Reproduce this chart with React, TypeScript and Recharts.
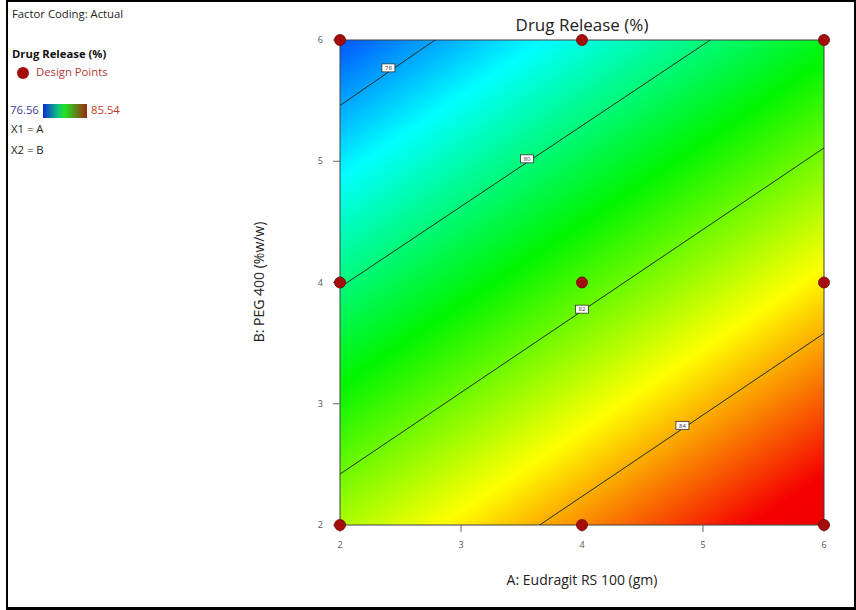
import React from 'react';
import { ComposedChart, XAxis, YAxis, Scatter, ReferenceArea, ReferenceLine } from 'recharts';

// design points (A: Eudragit RS 100, B: PEG 400)
const designPoints = [
  { a: 2, b: 2 }, { a: 2, b: 4 }, { a: 2, b: 6 },
  { a: 4, b: 2 }, { a: 4, b: 4 }, { a: 4, b: 6 },
  { a: 6, b: 2 }, { a: 6, b: 4 }, { a: 6, b: 6 },
];

// contour lines, endpoints
const contourLevels = [78, 80, 82, 84];
const contourStarts = [{ x: 2, y: 5.46 }, { x: 2, y: 3.96 }, { x: 2, y: 2.42 }, { x: 3.65, y: 2 }];
const contourEnds = [{ x: 2.785, y: 6 }, { x: 5.06, y: 6 }, { x: 6, y: 5.11 }, { x: 6, y: 3.58 }];

// where each contour label box sits
const contourLabels = [
  { a: 2.4, b: 5.77, z: 78 },
  { a: 3.545, b: 5.02, z: 80 },
  { a: 4.0, b: 3.78, z: 82 },
  { a: 4.83, b: 2.82, z: 84 },
];

const xTicks = [2, 3, 4, 5, 6];
const yTicks = [2, 3, 4, 5, 6];

const rangeMin = '76.56';
const rangeMax = '85.54';

const font = '"Open Sans", "Noto Sans", sans-serif';

const DesignDot = (props: any) => (
  <circle cx={props.cx} cy={props.cy} r={5.5} fill="#a50d0d" stroke="#6e0000" strokeWidth={0.8} />
);

const LabelBox = (props: any) => (
  <g>
    <rect x={props.cx - 6.5} y={props.cy - 4} width={13} height={8} fill="#ffffff" stroke="#333" strokeWidth={0.8} />
    <text x={props.cx} y={props.cy + 2.2} fontSize={6} textAnchor="middle" fill="#333" fontFamily={font}>
      {props.payload.z}
    </text>
  </g>
);

export default function App() {
  return (
    <div style={{ position: 'absolute', left: 0, top: 0, width: 856, height: 610, background: '#fff', fontFamily: font }}>
      <div style={{ position: 'absolute', left: 6, top: 0, width: 846, height: 605, border: '2px solid #000', borderTopWidth: 2.5, borderBottomWidth: 3 }} />

      {/* left legend */}
      <div style={{ position: 'absolute', left: 12, top: 6, fontSize: 11.3, color: '#222' }}>Factor Coding: Actual</div>
      <div style={{ position: 'absolute', left: 12, top: 46, fontSize: 11.3, fontWeight: 700, color: '#111' }}>Drug Release (%)</div>
      <div style={{ position: 'absolute', left: 17, top: 67, width: 12, height: 12, borderRadius: 6, background: '#a50d0d' }} />
      <div style={{ position: 'absolute', left: 36, top: 64, fontSize: 11.3, color: '#b33a3a' }}>Design Points</div>
      <div style={{ position: 'absolute', left: 10, top: 102, fontSize: 11.3, color: '#3d3d9e' }}>{rangeMin}</div>
      <div style={{ position: 'absolute', left: 43, top: 104, width: 44, height: 14, background: 'linear-gradient(to right, #0a2ad8, #10c878 35%, #22e022 50%, #a02810)' }} />
      <div style={{ position: 'absolute', left: 91, top: 102, fontSize: 11.3, color: '#c0392b' }}>{rangeMax}</div>
      <div style={{ position: 'absolute', left: 11, top: 121, fontSize: 11.3, color: '#222' }}>X1 = A</div>
      <div style={{ position: 'absolute', left: 11, top: 142, fontSize: 11.3, color: '#222' }}>X2 = B</div>

      {/* titles */}
      <div style={{ position: 'absolute', left: 340, width: 484, top: 13, textAlign: 'center', fontSize: 17, color: '#222' }}>Drug Release (%)</div>
      <div style={{ position: 'absolute', left: 340, width: 484, top: 570, textAlign: 'center', fontSize: 14, color: '#222' }}>A: Eudragit RS 100 (gm)</div>
      <div style={{ position: 'absolute', left: 258, top: 282, transform: 'translate(-50%, -50%) rotate(-90deg)', whiteSpace: 'nowrap', fontSize: 14, color: '#222' }}>B: PEG 400 (%w/w)</div>

      <div style={{ position: 'absolute', left: 0, top: 0 }}>
        <ComposedChart width={856} height={610} margin={{ top: 40, right: 32, left: 280, bottom: 55 }}>
          <defs>
            <linearGradient id="heat" x1="0" y1="0" x2="0.773" y2="1.153">
              <stop offset="0" stopColor="#0055ff" />
              <stop offset="0.17" stopColor="#00ffff" />
              <stop offset="0.426" stopColor="#00f500" />
              <stop offset="0.682" stopColor="#ffff00" />
              <stop offset="0.938" stopColor="#f50000" />
              <stop offset="1" stopColor="#f00000" />
            </linearGradient>
          </defs>
          <XAxis
            type="number"
            dataKey="a"
            domain={[2, 6]}
            ticks={xTicks}
            height={30}
            axisLine={false}
            tickSize={7}
            tickMargin={10}
            tickLine={{ stroke: '#666' }}
            tick={{ fontSize: 9, fill: '#555', fontFamily: font }}
          />
          <YAxis
            type="number"
            dataKey="b"
            domain={[2, 6]}
            ticks={yTicks}
            width={60}
            axisLine={false}
            tickSize={7}
            tickMargin={10}
            tickLine={{ stroke: '#666' }}
            tick={{ fontSize: 9, fill: '#555', fontFamily: font }}
          />
          <ReferenceArea x1={2} x2={6} y1={2} y2={6} fill="url(#heat)" fillOpacity={1} stroke="#404040" strokeWidth={1} />
          {contourLevels.map((lvl, i) => (
            <ReferenceLine
              key={lvl}
              segment={[contourStarts[i], contourEnds[i]]}
              stroke="#1f2f1f"
              strokeWidth={1}
            />
          ))}
          <Scatter data={contourLabels} shape={LabelBox} isAnimationActive={false} />
          <Scatter data={designPoints} shape={DesignDot} isAnimationActive={false} />
        </ComposedChart>
      </div>
    </div>
  );
}
